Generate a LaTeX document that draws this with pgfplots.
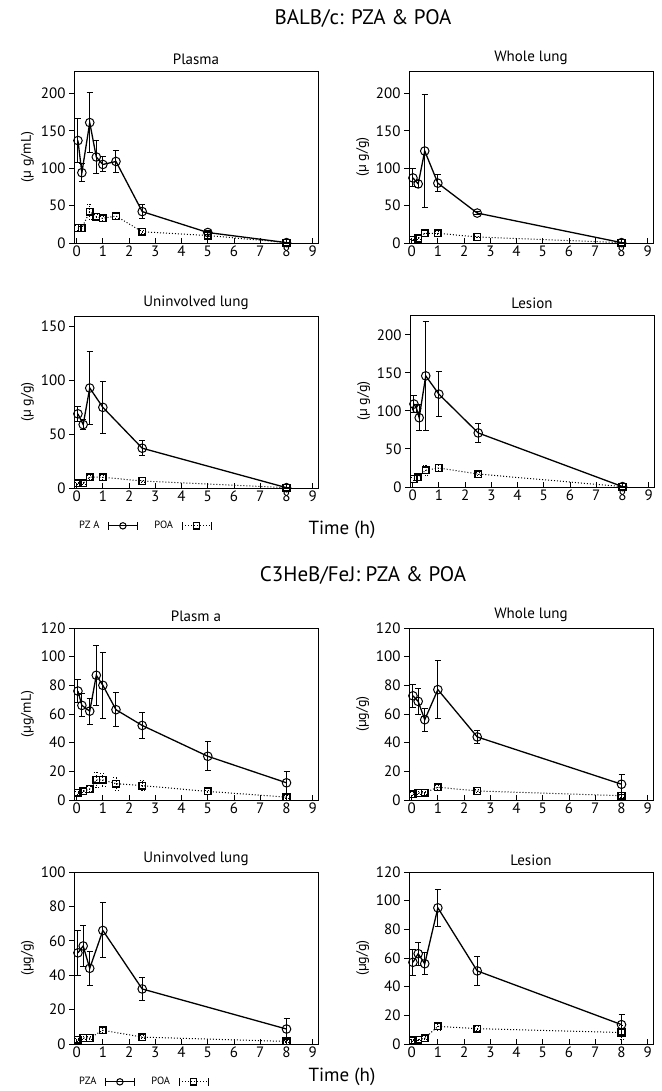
\documentclass[border=0pt]{standalone}
\usepackage{fontspec}
\setmainfont{PT Sans}
\usepackage{pgfplots}
\pgfplotsset{compat=1.18}
\usepackage{pgfplotstable}

% concentrations: t = time (h), c = mean, e = sd
\pgfplotstableread{
t    c    e
0.05 137  29
0.2  94   12
0.5  161  40
0.75 115  22
1    105  10
1.5  109  15
2.5  42   9
5    14   3
8    0.5  0.5
}\balbPlasmaPZA
\pgfplotstableread{
t    c    e
0.05 20   3
0.2  20   2
0.5  42   10
0.75 35   3
1    33   3
1.5  36   3
2.5  15   2
5    10   2
8    0.5  0.5
}\balbPlasmaPOA
\pgfplotstableread{
t    c    e
0.05 87   12
0.25 79   5
0.5  123  75
1    80   11
2.5  40   2
8    0.5  0.5
}\balbWholePZA
\pgfplotstableread{
t    c    e
0.05 4    1
0.25 6    1
0.5  13   4
1    13   2
2.5  8    1
8    0.5  0.5
}\balbWholePOA
\pgfplotstableread{
t    c    e
0.05 69   7
0.25 59   5
0.5  93   34
1    75   24
2.5  37   7
8    0.3  0.3
}\balbUninvPZA
\pgfplotstableread{
t    c    e
0.05 4.5  1
0.25 4.5  1
0.5  10   2
1    10   2
2.5  6.5  1
8    0.3  0.3
}\balbUninvPOA
\pgfplotstableread{
t    c    e
0.05 109  11
0.15 103  5
0.25 91   17
0.5  146  72
1    122  30
2.5  71   12
8    0.5  0.5
}\balbLesionPZA
\pgfplotstableread{
t    c    e
0.05 10.5 2
0.2  13   2
0.5  22   7
1    25   5
2.5  17   2
8    0.5  0.5
}\balbLesionPOA
\pgfplotstableread{
t    c    e
0.05 76   8
0.2  66   8
0.5  62   9
0.75 87   21
1    80   23
1.5  63   12
2.5  52   9
5    30.5 10
8    12   8
}\cPlasmaPZA
\pgfplotstableread{
t    c    e
0.05 5    1
0.25 6    1
0.5  7.7  1.5
0.75 14   5.5
1    14   4.5
1.5  11.4 4.5
2.5  10   3.5
5    6    1
8    2    1
}\cPlasmaPOA
\pgfplotstableread{
t    c    e
0.05 72.7 8
0.25 68.8 9
0.5  56   8
1    77   20
2.5  44   4.5
8    11   7
}\cWholePZA
\pgfplotstableread{
t    c    e
0.05 4    1
0.25 4.9  1
0.5  5.1  1
1    8.9  1.5
2.5  6.3  1
8    3    1
}\cWholePOA
\pgfplotstableread{
t    c    e
0.05 53   13
0.25 57   12
0.5  44   10
1    66   16
2.5  32   6.5
8    8.7  6
}\cUninvPZA
\pgfplotstableread{
t    c    e
0.05 2.5  1
0.25 3.5  1
0.5  3.5  1
1    8    1.5
2.5  4    1
8    1.5  0.5
}\cUninvPOA
\pgfplotstableread{
t    c    e
0.05 57   9
0.25 63   8
0.5  56   7.5
1    95   13
2.5  51   10
8    13.5 7
}\cLesionPZA
\pgfplotstableread{
t    c    e
0.05 2.5  0.5
0.25 3    0.5
0.5  4    1
1    12.3 3
2.5  10.7 1.5
8    8    5
}\cLesionPOA

\pgfplotsset{
  panel/.style={
    scale only axis, width=244pt, height=172pt,
    anchor=south west,
    xmin=-0.1, xmax=9.2, ymin=0,
    xtick={0,1,...,9},
    xtick pos=bottom, ytick pos=left,
    xtick align=inside, ytick align=outside,
    major tick length=5pt,
    axis line style={line width=0.9pt},
    every tick/.style={black, line width=0.9pt},
    tick label style={font=\fontsize{15}{17}\selectfont},
    xticklabel style={yshift=1pt},
    /pgf/number format/assume math mode=true,
    title style={font=\fontsize{15}{17}\selectfont, yshift=-3pt},
    ylabel style={font=\fontsize{14}{16}\selectfont, yshift=0pt},
    legend image code/.code={
      \draw[##1, |-|, mark=none, line width=0.9pt] (0pt,0pt) -- (30pt,0pt);
      \draw[##1, only marks, mark size=3.2pt] plot coordinates {(15pt,0pt)};
    },
  },
  pza/.style={
    black, solid, line width=1.3pt,
    mark=o, mark size=4.3pt,
    mark options={solid, line width=1pt, fill=white},
    error bars/.cd, y dir=both, y explicit,
    error bar style={solid, line width=1pt},
    error mark options={rotate=90, mark size=3pt, line width=1pt},
  },
  poa/.style={
    black, dotted, line width=1pt,
    mark=square, mark size=3.3pt,
    mark options={solid, line width=1.5pt, fill=white},
    error bars/.cd, y dir=both, y explicit,
    error bar style={dotted, line width=0.8pt},
    error mark options={rotate=90, mark size=2.5pt, dotted, line width=0.8pt},
  },
  bottomlegend/.style={
    legend plot pos=right,
    legend columns=2,
    legend style={at={(0,-0.22)}, anchor=west, draw=none, fill=none,
      font=\fontsize{10.5}{12}\selectfont,
      /tikz/every odd column/.append style={column sep=6pt},
      /tikz/every even column/.append style={column sep=14pt}},
  },
}

\newcommand{\pair}[2]{%
  \addplot[pza] table[x=t, y=c, y error=e] {#1};
  \addplot[poa] table[x=t, y=c, y error=e] {#2};
}

\begin{document}
\begin{tikzpicture}[x=1pt, y=1pt]
\path[use as bounding box] (0,0) rectangle (661,1091);

\node[font=\fontsize{21}{24}\selectfont] at (363,1072) {BALB/c: PZA \& POA};
\node[font=\fontsize{21}{24}\selectfont] at (363,515) {C3HeB/FeJ: PZA \& POA};
\node[font=\fontsize{19}{22}\selectfont] at (342,561) {Time (h)};
\node[font=\fontsize{19}{22}\selectfont] at (342,14) {Time (h)};

% BALB/c
\begin{axis}[panel, at={(74pt,848pt)}, ymax=230, title={Plasma}, ylabel={(µ g/mL)}]
\pair{\balbPlasmaPZA}{\balbPlasmaPOA}
\end{axis}
\begin{axis}[panel, at={(409pt,848pt)}, ymax=230, title={Whole lung}, ylabel={(µ g/g)}]
\pair{\balbWholePZA}{\balbWholePOA}
\end{axis}
\begin{axis}[panel, at={(74pt,603pt)}, ymax=160, title={Uninvolved lung}, ylabel={(µ g/g)}, bottomlegend]
\pair{\balbUninvPZA}{\balbUninvPOA}
\legend{PZ A, POA}
\end{axis}
\begin{axis}[panel, at={(410pt,604pt)}, ymax=226, title={Lesion}, ylabel={(µ g/g)}]
\pair{\balbLesionPZA}{\balbLesionPOA}
\end{axis}

% C3HeB/FeJ
\begin{axis}[panel, at={(74pt,291pt)}, ymax=120, title={Plasm a}, ylabel={(µg/mL)}]
\pair{\cPlasmaPZA}{\cPlasmaPOA}
\end{axis}
\begin{axis}[panel, at={(409pt,291pt)}, ymax=120, title={Whole lung}, ylabel={(µg/g)}]
\pair{\cWholePZA}{\cWholePOA}
\end{axis}
\begin{axis}[panel, at={(74pt,47pt)}, ymax=100, title={Uninvolved lung}, ylabel={(µg/g)}, bottomlegend]
\pair{\cUninvPZA}{\cUninvPOA}
\legend{PZA, POA}
\end{axis}
\begin{axis}[panel, at={(409pt,47pt)}, ymax=120, title={Lesion}, ylabel={(µg/g)}]
\pair{\cLesionPZA}{\cLesionPOA}
\end{axis}
\end{tikzpicture}
\end{document}
